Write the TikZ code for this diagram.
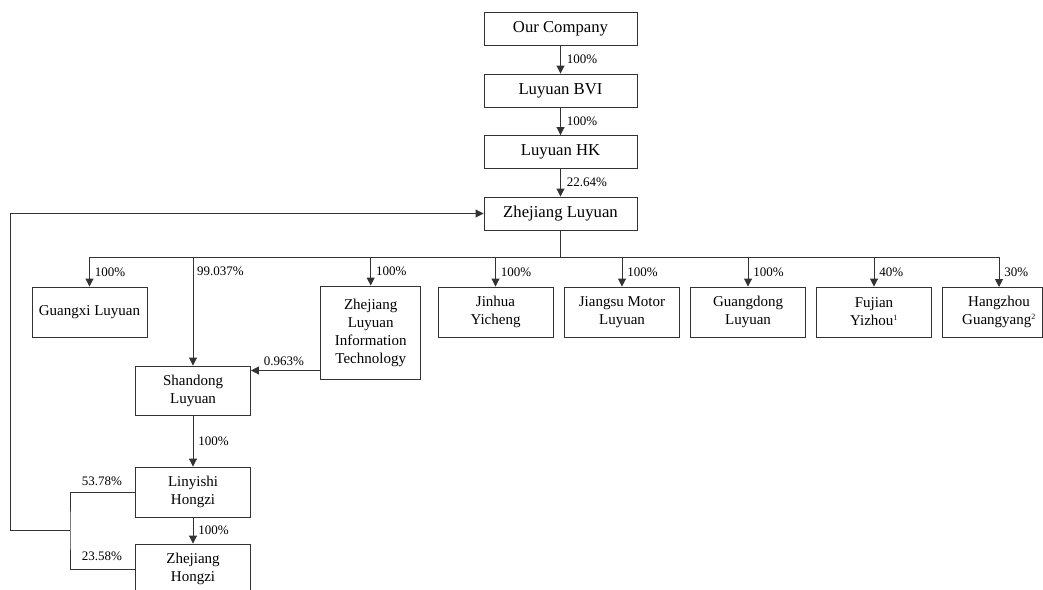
\documentclass[tikz,border=0pt]{standalone}
\usepackage{fontspec}
\setmainfont{Liberation Serif}
\usetikzlibrary{arrows.meta}
\begin{document}
\begin{tikzpicture}[x=1pt,y=-1pt,
  box/.style={draw=black!80,line width=0.9pt,inner sep=2pt,align=center,font=\fontsize{15}{18}\selectfont},
  topbox/.style={box,minimum width=153pt,minimum height=33pt,font=\fontsize{16.7}{19}\selectfont},
  subbox/.style={box,minimum width=115pt,minimum height=50pt},
  ln/.style={draw=black!80,line width=0.9pt},
  arr/.style={ln,-{Triangle[length=8pt,width=8pt]}},
  pct/.style={font=\fontsize{13}{15}\selectfont,inner sep=0pt,anchor=west}]
\useasboundingbox (0,0) rectangle (1043,589);
% top chain
\node[topbox] (oc) at (560.5,28.5) {Our Company};
\node[topbox] (bvi) at (560.5,90.5) {Luyuan BVI};
\node[topbox] (hk) at (560.5,152) {Luyuan HK};
\node[topbox] (zl) at (560.5,213.5) {Zhejiang Luyuan};
\draw[arr] (oc) -- node[pct,xshift=6pt] {100\%} (bvi);
\draw[arr] (bvi) -- node[pct,xshift=6pt] {100\%} (hk);
\draw[arr] (hk) -- node[pct,xshift=6pt] {22.64\%} (zl);
% second row
\node[subbox] (gx) at (89.5,312) {Guangxi Luyuan};
\node[box,minimum width=100pt,minimum height=93pt] (it) at (370.7,332.5) {Zhejiang\\Luyuan\\Information\\Technology};
\node[subbox] (jh) at (495.5,312) {Jinhua\\Yicheng};
\node[subbox] (js) at (622,312) {Jiangsu Motor\\Luyuan};
\node[subbox] (gd) at (748,312) {Guangdong\\Luyuan};
\node[subbox] (fj) at (874,312) {Fujian\\Yizhou\textsuperscript{\fontsize{8}{9}\selectfont 1}};
\node[box,minimum width=100pt,minimum height=50pt] (hz) at (992,312) {\hspace*{14pt}\begin{tabular}{@{}c@{}}Hangzhou\\Guangyang\textsuperscript{\fontsize{8}{9}\selectfont 2}\end{tabular}};
% lower chain
\node[subbox,minimum height=49pt] (sd) at (193,390.5) {Shandong\\Luyuan};
\node[subbox] (ly) at (193,492) {Linyishi\\Hongzi};
\node[subbox] (zh) at (193,569) {Zhejiang\\Hongzi};
% bus
\coordinate (bus) at (560.5,257);
\coordinate (busL) at (89.5,257);
\coordinate (busR) at (999,257);
\draw[ln] (zl) -- (bus);
\draw[ln] (busL) -- (busR);
\draw[arr] (gx.north |- bus) -- node[pct,xshift=5pt] {100\%} (gx.north);
\draw[arr] (sd.north |- bus) -- (sd.north);
\node[pct] (p99) at (197,271.5) {99.037\%};
\draw[arr] (it.north |- bus) -- node[pct,xshift=5pt] {100\%} (it.north);
\draw[arr] (jh.north |- bus) -- node[pct,xshift=5pt] {100\%} (jh.north);
\draw[arr] (js.north |- bus) -- node[pct,xshift=5pt] {100\%} (js.north);
\draw[arr] (gd.north |- bus) -- node[pct,xshift=5pt] {100\%} (gd.north);
\draw[arr] (fj.north |- bus) -- node[pct,xshift=5pt] {40\%} (fj.north);
\coordinate (hzt) at (999,287);
\draw[arr] (hzt |- bus) -- node[pct,xshift=5pt] {30\%} (hzt);
% info tech to shandong
\coordinate (yref) at (0,370.5);
\draw[arr] (it.west |- yref) -- (sd.east |- yref);
\node[font=\fontsize{13}{15}\selectfont,inner sep=0pt] (p0963) at (284,361) {0.963\%};
% shandong to linyishi to hongzi
\draw[arr] (sd) -- node[pct,xshift=5pt] {100\%} (ly);
\draw[arr] (ly) -- node[pct,xshift=5pt] {100\%} (zh);
% loop back
\coordinate (jx) at (70,530);
\coordinate (lx) at (10,530);
\draw[ln] (ly.west) -| (jx) |- (zh.west);
\draw[arr] (jx) -- (lx) |- (zl.west);
\node[font=\fontsize{13}{15}\selectfont,inner sep=0pt] (p5378) at (102,481) {53.78\%};
\node[font=\fontsize{13}{15}\selectfont,inner sep=0pt] (p2358) at (102,556) {23.58\%};
\end{tikzpicture}
\end{document}
